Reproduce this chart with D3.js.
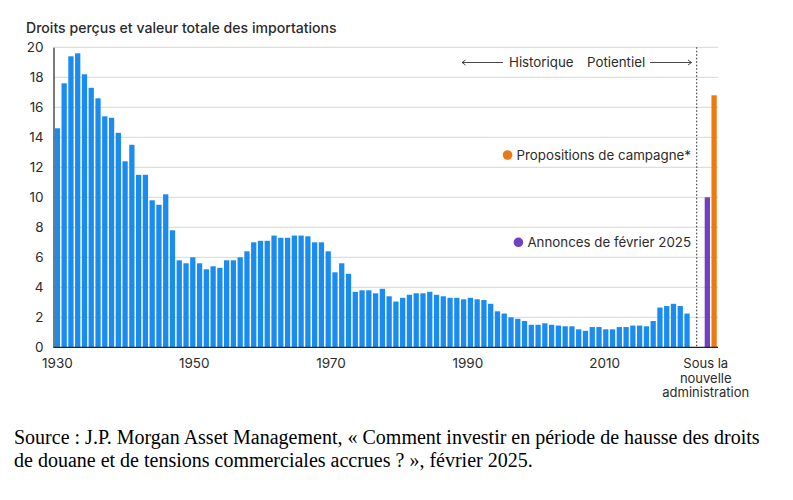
<!DOCTYPE html>
<html>
<head>
<meta charset="utf-8">
<script src="https://cdn.jsdelivr.net/npm/d3@7"></script>
<style>
    body { margin: 0; background: #fff; }
    svg { display: block; }
    .chart-text { font-family: Inter, "Noto Sans", sans-serif; fill: #2b2b2b; }
    .source { font-family: "Liberation Serif", "Times New Roman", serif; fill: #000; }
</style>
</head>
<body>
<div class="container"></div>
<script>
// historical duties collected / total import value (%)
var years = [];
for (var y = 1930; y <= 2023; y++) years.push(y);

var values = [
    14.6, 17.6, 19.4, 19.6, 18.2, 17.3, 16.6, 15.4, 15.3, 14.3,
    12.4, 13.5, 11.5, 11.5, 9.8, 9.5, 10.2, 7.8, 5.8, 5.6,
    6.0, 5.6, 5.2, 5.4, 5.3, 5.8, 5.8, 6.0, 6.4, 7.0,
    7.1, 7.1, 7.45, 7.3, 7.3, 7.45, 7.45, 7.4, 7.0, 7.0,
    6.4, 5.0, 5.6, 4.9, 3.7, 3.8, 3.8, 3.6, 3.9, 3.4,
    3.05, 3.3, 3.5, 3.6, 3.6, 3.7, 3.5, 3.4, 3.3, 3.3,
    3.2, 3.3, 3.2, 3.15, 2.9, 2.4, 2.25, 2.0, 1.9, 1.75,
    1.5, 1.5, 1.6, 1.5, 1.45, 1.4, 1.4, 1.2, 1.1, 1.35,
    1.35, 1.2, 1.2, 1.35, 1.35, 1.45, 1.45, 1.4, 1.75, 2.65,
    2.75, 2.9, 2.75, 2.25
];

// potential scenarios under the new administration
var scenarioNames = ["Annonces de février 2025", "Propositions de campagne*"];
var scenarioValues = [10, 16.8];
var scenarioColors = ["#6f42c1", "#ec7a12"];

var yTicks = [0, 2, 4, 6, 8, 10, 12, 14, 16, 18, 20];
var xTickYears = [1930, 1950, 1970, 1990, 2010];
var scenarioLabel = ["Sous la", "nouvelle", "administration"];

var title = "Droits perçus et valeur totale des importations";
var sourceLines = [
    "Source : J.P. Morgan Asset Management, « Comment investir en période de hausse des droits",
    "de douane et de tensions commerciales accrues ? », février 2025."
];

var WIDTH = 793, HEIGHT = 500;
var margin = {left: 53.5, right: 75, top: 47.3, bottom: 152.7};
var BLUE = "#1a8cf0";

var svg = d3.select(".container").append("svg")
    .attr("width", WIDTH)
    .attr("height", HEIGHT);

// slots: one per year, two empty slots, one per scenario
var slots = years.map(function(d) { return "y" + d; })
    .concat(["gap1", "gap2"])
    .concat(scenarioNames.map(function(d, i) { return "s" + i; }));

var x = d3.scaleBand()
    .domain(slots)
    .range([margin.left, WIDTH - margin.right])
    .paddingInner(0.22)
    .paddingOuter(0.185);

var yScale = d3.scaleLinear()
    .domain([0, 20])
    .range([HEIGHT - margin.bottom, margin.top]);

// grid
svg.append("g")
    .selectAll("line")
    .data(yTicks.filter(function(d) { return d > 0; }))
    .enter()
    .append("line")
    .attr("x1", margin.left)
    .attr("x2", WIDTH - margin.right)
    .attr("y1", function(d) { return yScale(d); })
    .attr("y2", function(d) { return yScale(d); })
    .attr("stroke", "#d6d6d6")
    .attr("stroke-width", 1);

// y axis labels
var yAxis = svg.append("g")
    .attr("class", "chart-text")
    .attr("transform", "translate(" + margin.left + ",0)")
    .call(d3.axisLeft(yScale).tickValues(yTicks).tickSize(0).tickPadding(10));
yAxis.select(".domain").attr("stroke", "#222").attr("stroke-width", 1.2);
yAxis.selectAll("text")
    .attr("font-family", "Inter, 'Noto Sans', sans-serif")
    .attr("font-size", "13.5px")
    .attr("fill", "#2b2b2b");

// historical bars
svg.append("g")
    .selectAll("rect")
    .data(values)
    .enter()
    .append("rect")
    .attr("x", function(d, i) { return x("y" + years[i]); })
    .attr("width", x.bandwidth())
    .attr("y", function(d) { return yScale(d); })
    .attr("height", function(d) { return yScale(0) - yScale(d); })
    .attr("fill", BLUE);

// scenario bars
svg.append("g")
    .selectAll("rect")
    .data(scenarioValues)
    .enter()
    .append("rect")
    .attr("x", function(d, i) { return x("s" + i); })
    .attr("width", x.bandwidth())
    .attr("y", function(d) { return yScale(d); })
    .attr("height", function(d) { return yScale(0) - yScale(d); })
    .attr("fill", function(d, i) { return scenarioColors[i]; });

// dotted separator between historic and potential
var sepX = (x("gap1") + x("gap2") + x.bandwidth()) / 2 - 0.5;
svg.append("line")
    .attr("x1", sepX).attr("x2", sepX)
    .attr("y1", yScale(20)).attr("y2", yScale(0))
    .attr("stroke", "#444")
    .attr("stroke-width", 1.2)
    .attr("stroke-dasharray", "1.5,2");

// baseline
svg.append("line")
    .attr("x1", margin.left).attr("x2", WIDTH - margin.right)
    .attr("y1", yScale(0)).attr("y2", yScale(0))
    .attr("stroke", "#222")
    .attr("stroke-width", 1.3);

// x axis labels
var xLabels = svg.append("g").attr("class", "chart-text");
xLabels.selectAll("text")
    .data(xTickYears)
    .enter()
    .append("text")
    .attr("x", function(d) { return x("y" + d) + x.bandwidth() / 2 + (d - 1930) * 0.07; })
    .attr("y", 368)
    .attr("text-anchor", "middle")
    .attr("font-size", "13.5px")
    .text(function(d) { return d; });

var scenX = (x("s0") + x("s1") + x.bandwidth()) / 2 - 5;
xLabels.selectAll(".scen")
    .data(scenarioLabel)
    .enter()
    .append("text")
    .attr("class", "scen")
    .attr("x", scenX)
    .attr("y", function(d, i) { return 368 + i * 14.6; })
    .attr("text-anchor", "middle")
    .attr("font-size", "13px")
    .text(function(d) { return d; });

// title
svg.append("text")
    .attr("class", "chart-text")
    .attr("x", 26)
    .attr("y", 33)
    .attr("font-size", "14.1px")
    .attr("font-weight", 500)
    .text(title);

// historic / potential annotation
var ann = svg.append("g").attr("class", "chart-text");
var annY = 62.5;
ann.append("text")
    .attr("x", 509).attr("y", annY + 4.5)
    .attr("font-size", "13.3px")
    .text("Historique");
ann.append("text")
    .attr("x", 587).attr("y", annY + 4.5)
    .attr("font-size", "13.3px")
    .text("Potientiel");

var arrows = [[503, 462], [650, 691.5]];
arrows.forEach(function(a) {
    var dir = a[1] > a[0] ? 1 : -1;
    ann.append("line")
        .attr("x1", a[0]).attr("x2", a[1])
        .attr("y1", annY).attr("y2", annY)
        .attr("stroke", "#333").attr("stroke-width", 0.9);
    ann.append("path")
        .attr("d", "M" + (a[1] - dir * 3.5) + "," + (annY - 2.5) + "L" + a[1] + "," + annY + "L" + (a[1] - dir * 3.5) + "," + (annY + 2.5))
        .attr("fill", "none")
        .attr("stroke", "#333").attr("stroke-width", 0.9);
});

// scenario legend labels
var legendY = [242.3, 155];
var legend = svg.append("g").attr("class", "chart-text");
scenarioNames.forEach(function(name, i) {
    var t = legend.append("text")
        .attr("x", 691)
        .attr("y", legendY[i] + 4.7)
        .attr("text-anchor", "end")
        .attr("font-size", "13.3px")
        .text(name);
    var w = t.node().getComputedTextLength();
    legend.append("circle")
        .attr("cx", 691 - w - 9)
        .attr("cy", legendY[i])
        .attr("r", 4.8)
        .attr("fill", scenarioColors[i]);
});

// source note
svg.append("g")
    .selectAll("text")
    .data(sourceLines)
    .enter()
    .append("text")
    .attr("class", "source")
    .attr("x", 14)
    .attr("y", function(d, i) { return 444 + i * 22.5; })
    .attr("font-size", "20px")
    .text(function(d) { return d; });
</script>
</body>
</html>
